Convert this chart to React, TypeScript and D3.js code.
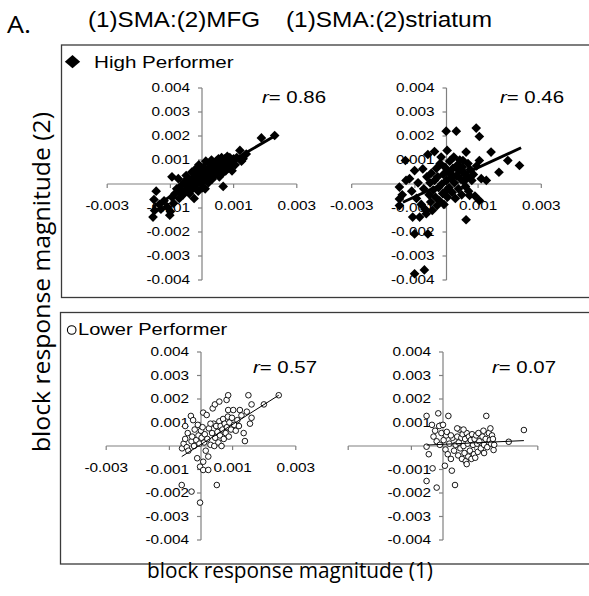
import React from 'react';
import * as d3 from 'd3';

const W = 589;
const H = 596;

// All values in units of 0.001 (block response magnitude)
const HIGH_MFG: [number, number][] = [
  [-1.55,-1.38],[-1.50,-1.10],[-1.52,-0.65],[-1.45,-0.30],[-1.35,-0.85],[-1.30,-1.05],[-1.20,-0.70],[-1.10,-0.95],
  [-1.02,-1.30],[-1.00,-1.15],[-0.95,-0.55],[-0.90,-0.80],[-0.85,-0.40],[-0.80,-0.20],[-0.75,0.22],[-0.72,-0.60],
  [-0.70,-0.35],[-0.65,-0.05],[-0.60,-0.45],[-0.55,0.10],[-0.52,-0.25],[-0.50,0.35],[-0.45,-0.10],[-0.42,0.20],
  [-0.40,-0.40],[-0.35,0.05],[-0.32,0.50],[-0.30,-0.20],[-0.25,0.30],[-0.22,0.60],[-0.20,-0.05],[-0.18,0.15],
  [-0.15,0.45],[-0.12,-0.30],[-0.10,0.80],[-0.08,0.25],[-0.05,0.05],[-0.02,0.55],[0.00,0.35],[0.02,-0.15],
  [0.05,0.70],[0.08,0.15],[0.10,0.45],[0.12,0.95],[0.15,0.30],[0.18,0.60],[0.20,0.05],[0.22,0.85],
  [0.25,0.40],[0.28,0.70],[0.30,1.00],[0.32,0.20],[0.35,0.55],[0.38,0.85],[0.40,0.35],[0.42,0.65],
  [0.45,0.95],[0.48,0.50],[0.50,0.75],[0.52,1.05],[0.55,0.30],[0.58,0.85],[0.60,0.60],[0.62,1.10],
  [0.65,0.45],[0.67,-0.10],[0.68,0.90],[0.70,0.70],[0.72,1.05],[0.75,0.55],[0.78,0.85],[0.80,1.15],
  [0.82,0.65],[0.85,0.95],[0.88,1.10],[0.90,0.75],[0.95,0.55],[0.98,0.95],[1.00,1.05],[1.05,0.80],
  [1.10,1.10],[1.20,1.40],[1.25,0.95],[1.30,1.05],[1.40,1.25],[1.88,1.92],[2.30,2.02],[-0.95,0.30],
  [-0.25,-0.60],[0.10,-0.20],
];

const HIGH_STR: [number, number][] = [
  [-1.49,-0.13],[-1.49,-0.62],[-1.49,-0.90],[-1.40,-0.45],[-1.30,0.98],[-1.28,0.15],[-1.17,0.22],[-1.10,-0.30],
  [-1.07,-1.38],[-1.01,0.56],[-1.01,-2.08],[-1.01,-3.74],[-0.95,-0.60],[-0.90,0.05],[-0.85,-1.38],[-0.80,-0.85],
  [-0.75,0.63],[-0.72,-0.20],[-0.70,-3.58],[-0.68,-1.05],[-0.64,-1.24],[-0.62,0.30],[-0.59,1.23],[-0.59,-2.08],
  [-0.55,-0.45],[-0.52,0.05],[-0.50,-0.75],[-0.48,0.45],[-0.45,-1.10],[-0.42,-0.25],[-0.38,1.35],[-0.38,0.15],
  [-0.35,-0.55],[-0.32,0.65],[-0.30,-0.90],[-0.28,0.30],[-0.25,-0.15],[-0.22,-0.70],[-0.20,0.85],[-0.17,1.12],
  [-0.15,0.00],[-0.12,-0.40],[-0.10,0.40],[-0.08,-0.85],[-0.05,0.70],[-0.01,2.20],[-0.01,-0.27],[0.00,0.15],
  [0.02,1.40],[0.03,-0.55],[0.05,0.50],[0.08,-0.15],[0.10,0.95],[0.12,0.25],[0.15,0.42],[0.18,-0.35],
  [0.20,0.65],[0.23,1.12],[0.25,0.05],[0.28,-0.60],[0.31,2.20],[0.32,0.35],[0.35,0.80],[0.38,-0.20],
  [0.40,0.55],[0.42,1.00],[0.45,0.20],[0.48,-0.45],[0.50,0.70],[0.52,0.98],[0.55,0.10],[0.58,0.45],
  [0.60,-0.10],[0.62,1.33],[0.62,-1.49],[0.65,0.30],[0.68,0.85],[0.70,-0.30],[0.73,-0.48],[0.75,0.60],
  [0.80,0.15],[0.85,0.40],[0.90,-0.50],[0.94,2.33],[0.95,0.75],[1.04,1.98],[1.04,0.98],[1.04,-0.69],
  [1.10,0.22],[1.26,0.15],[1.41,1.33],[1.66,0.49],[1.94,0.98],[2.31,0.77],
];

const LOW_MFG: [number, number][] = [
  [-0.61,-1.66],[-0.60,-0.10],[-0.55,0.10],[-0.50,0.30],[-0.45,-0.05],[-0.42,0.55],[-0.32,1.28],[-0.30,-1.94],
  [-0.30,0.20],[-0.28,0.40],[-0.25,1.10],[-0.22,0.00],[-0.20,0.70],[-0.15,0.25],[-0.12,-0.52],[-0.10,0.90],
  [-0.08,0.45],[-0.05,0.10],[-0.03,-0.88],[-0.03,-2.41],[0.00,0.65],[0.02,0.35],[0.05,0.80],[0.07,1.42],
  [0.07,-0.67],[0.07,-1.02],[0.10,0.15],[0.12,0.50],[0.15,-0.20],[0.18,1.32],[0.20,0.30],[0.23,-0.45],
  [0.23,-1.02],[0.25,0.75],[0.30,0.05],[0.35,0.55],[0.37,1.60],[0.40,0.95],[0.42,0.00],[0.44,1.77],
  [0.45,0.35],[0.48,0.85],[0.50,-1.66],[0.52,0.60],[0.55,0.15],[0.58,1.89],[0.58,1.05],[0.60,0.45],
  [0.62,0.85],[0.65,0.00],[0.68,0.70],[0.70,1.15],[0.72,0.30],[0.75,0.95],[0.78,0.55],[0.81,1.96],
  [0.82,0.80],[0.85,1.25],[0.86,2.16],[0.86,1.53],[0.88,0.40],[0.90,1.00],[0.95,0.70],[0.98,1.20],
  [1.02,1.53],[1.05,0.90],[1.10,0.65],[1.15,1.10],[1.20,0.85],[1.23,1.53],[1.28,1.30],[1.35,0.55],
  [1.39,0.21],[1.45,1.46],[1.50,2.16],[1.55,0.95],[1.60,1.77],[1.60,1.20],[1.99,1.77],[2.46,2.16],
  [-0.50,0.85],[0.30,0.95],[-0.40,-0.20],
];

const LOW_STR: [number, number][] = [
  [-0.52,1.28],[-0.52,-0.03],[-0.52,-1.49],[-0.45,-0.35],[-0.35,0.90],[-0.33,-0.95],[-0.30,0.40],[-0.25,0.65],
  [-0.20,-1.77],[-0.20,0.20],[-0.15,1.39],[-0.12,0.85],[-0.10,0.05],[-0.05,0.55],[0.00,0.90],[0.02,0.25],
  [0.06,-0.84],[0.08,-0.15],[0.10,0.45],[0.12,0.60],[0.15,-0.35],[0.17,1.28],[0.20,0.10],[0.25,-0.55],
  [0.28,-1.05],[0.30,0.35],[0.35,-0.20],[0.38,-1.66],[0.40,0.05],[0.45,0.40],[0.48,-0.40],[0.50,0.15],
  [0.52,0.70],[0.55,-0.10],[0.58,0.35],[0.60,-0.55],[0.62,0.50],[0.65,0.00],[0.68,-0.30],[0.70,0.30],
  [0.72,-0.65],[0.75,0.55],[0.75,-0.77],[0.78,0.10],[0.80,-0.45],[0.82,0.40],[0.85,-0.20],[0.88,0.25],
  [0.90,-0.55],[0.92,0.50],[0.95,0.05],[0.98,-0.35],[1.00,0.30],[1.02,-0.50],[1.05,0.45],[1.08,0.10],
  [1.10,-0.25],[1.12,0.55],[1.15,0.20],[1.20,-0.10],[1.25,0.40],[1.28,0.65],[1.30,0.05],[1.35,0.30],
  [1.37,1.28],[1.40,-0.05],[1.45,0.55],[1.48,0.25],[1.50,0.75],[1.52,0.10],[1.55,0.45],[1.58,0.30],
  [1.60,-0.17],[1.62,0.05],[2.08,0.18],[2.56,0.68],[0.45,0.75],[0.25,0.45],[1.30,-0.30],[0.65,0.70],
];

// fitted trend lines (endpoints, units of 0.001)
const TREND_HIGH_MFG: [number, number][] = [[-1.55, -0.95], [2.30, 2.00]];
const TREND_HIGH_STR: [number, number][] = [[-1.38, -0.76], [2.36, 1.51]];
const TREND_LOW_MFG: [number, number][] = [[-0.61, -0.45], [2.46, 2.16]];
const TREND_LOW_STR: [number, number][] = [[-0.52, 0.04], [2.56, 0.23]];

const R_VALUES = ['0.86', '0.46', '0.57', '0.07'];
const TITLES = ['(1)SMA:(2)MFG', '(1)SMA:(2)striatum'];
const GROUPS = ['High Performer', 'Lower Performer'];
const X_TICKS = [-3, -1, 1, 3];
const X_TICK_LABELS = [-3, 1, 3];
const Y_TICKS = [-4, -3, -2, -1, 1, 2, 3, 4];
const X_AXIS_TITLE = 'block response magnitude (1)';
const Y_AXIS_TITLE = 'block response magnitude (2)';

const fmt = (v: number) => (v / 1000).toFixed(3);
const KX = 31.6;

type Panel = {
  data: [number, number][];
  trend: [number, number][];
  r: string;
  cx: number; cy: number; ky: number;
  marker: 'diamond' | 'circle';
  lw: number;
  rx: number; ry: number;
  xLabels: boolean;
};

const PANELS: Panel[] = [
  { data: HIGH_MFG, trend: TREND_HIGH_MFG, r: R_VALUES[0], cx: 202, cy: 184, ky: 24, marker: 'diamond', lw: 3, rx: 262, ry: 103, xLabels: true },
  { data: HIGH_STR, trend: TREND_HIGH_STR, r: R_VALUES[1], cx: 446.5, cy: 184, ky: 24, marker: 'diamond', lw: 3, rx: 500, ry: 103, xLabels: true },
  { data: LOW_MFG, trend: TREND_LOW_MFG, r: R_VALUES[2], cx: 201, cy: 446, ky: 23.5, marker: 'circle', lw: 1, rx: 253, ry: 373, xLabels: true },
  { data: LOW_STR, trend: TREND_LOW_STR, r: R_VALUES[3], cx: 443, cy: 446, ky: 23.5, marker: 'circle', lw: 1, rx: 492, ry: 373, xLabels: false },
];

const ARIAL = 'Liberation Sans, Arial, sans-serif';
const HUMAN = '"Open Sans", "Noto Sans", sans-serif';

function SText(props: { x: number; y: number; sx?: number; size: number; anchor?: string; family?: string; children: React.ReactNode; fill?: string }) {
  const { x, y, sx = 1.22, size, anchor = 'start', family = ARIAL, children, fill = '#000' } = props;
  return (
    <text transform={`translate(${x},${y}) scale(${sx},1)`} fontSize={size} textAnchor={anchor} fontFamily={family} fill={fill}>
      {children}
    </text>
  );
}

function ScatterPanel({ p }: { p: Panel }) {
  const x = d3.scaleLinear().domain([-3, 3]).range([p.cx - 3 * KX, p.cx + 3 * KX]);
  const y = d3.scaleLinear().domain([-4, 4]).range([p.cy + 4 * p.ky, p.cy - 4 * p.ky]);
  const axisColor = '#808080';
  const line = d3.line<[number, number]>().x(d => x(d[0])).y(d => y(d[1]));
  const diamond = d3.symbol().type(d3.symbolDiamond2).size(60)();
  return (
    <g>
      {Y_TICKS.map(t => (
        <SText key={'yl' + t} x={x(0) - 12} y={y(t) + 4.2} size={12} sx={1.28} anchor="end">{fmt(t)}</SText>
      ))}
      {p.xLabels && X_TICK_LABELS.map(t => (
        <SText key={'xl' + t} x={x(t)} y={p.cy + 26} size={12} sx={1.28} anchor="middle">{fmt(t)}</SText>
      ))}
      <line x1={x(-3)} x2={x(3)} y1={y(0)} y2={y(0)} stroke={axisColor} strokeWidth={1.2} />
      {X_TICKS.map(t => (
        <line key={'xt' + t} x1={x(t)} x2={x(t)} y1={y(0)} y2={y(0) + 4} stroke={axisColor} strokeWidth={1.2} />
      ))}
      <line x1={x(0)} x2={x(0)} y1={y(4)} y2={y(-4)} stroke={axisColor} strokeWidth={1.2} />
      {Y_TICKS.map(t => (
        <line key={'yt' + t} x1={x(0) - 4} x2={x(0)} y1={y(t)} y2={y(t)} stroke={axisColor} strokeWidth={1.2} />
      ))}
      {p.data.map((d, i) =>
        p.marker === 'diamond' ? (
          <path key={i} d={diamond as string} transform={`translate(${x(d[0])},${y(d[1])})`} fill="#000" />
        ) : (
          <circle key={i} cx={x(d[0])} cy={y(d[1])} r={2.8} fill="#fff" stroke="#000" strokeWidth={0.9} />
        )
      )}
      <path d={line(p.trend) as string} stroke="#000" strokeWidth={p.lw} fill="none" />
      <text transform={`translate(${p.rx},${p.ry}) scale(1.2,1)`} fontSize={17} fontFamily={ARIAL}>
        <tspan fontStyle="italic">r</tspan>
        <tspan>{'= ' + p.r}</tspan>
      </text>
    </g>
  );
}

export default function App() {
  return (
    <svg width={W} height={H} style={{ display: 'block', position: 'absolute', left: 0, top: 0, background: '#fff' }}>
      <rect x={0} y={0} width={W} height={H} fill="#fff" />
      <text x={7} y={33} fontSize={24} fontFamily={HUMAN} textLength={24} lengthAdjust="spacingAndGlyphs">A.</text>
      <text x={88} y={27} fontSize={22} fontFamily={ARIAL} textLength={172} lengthAdjust="spacingAndGlyphs">{TITLES[0]}</text>
      <text x={286} y={27} fontSize={22} fontFamily={ARIAL} textLength={206} lengthAdjust="spacingAndGlyphs">{TITLES[1]}</text>
      <rect x={61.5} y={45} width={560} height={252.5} fill="none" stroke="#3a3a3a" strokeWidth={1.3} />
      <rect x={60.5} y={312.5} width={560} height={251.5} fill="none" stroke="#3a3a3a" strokeWidth={1.3} />
      <path d={d3.symbol().type(d3.symbolDiamond2).size(150)() as string} transform="translate(72.5,61.7) scale(1,0.87)" fill="#000" />
      <SText x={94} y={67.5} size={16.5} sx={1.25}>{GROUPS[0]}</SText>
      <circle cx={71.7} cy={330} r={4.3} fill="#fff" stroke="#000" strokeWidth={1.1} />
      <SText x={78} y={335} size={17} sx={1.18}>{GROUPS[1]}</SText>
      {PANELS.map((p, i) => <ScatterPanel key={i} p={p} />)}
      <text x={147} y={578} fontSize={21} fontFamily={HUMAN} textLength={286} lengthAdjust="spacingAndGlyphs">{X_AXIS_TITLE}</text>
      <text transform="translate(50,452) rotate(-90)" fontSize={23} fontFamily={HUMAN} textLength={340} lengthAdjust="spacingAndGlyphs">{Y_AXIS_TITLE}</text>
    </svg>
  );
}
